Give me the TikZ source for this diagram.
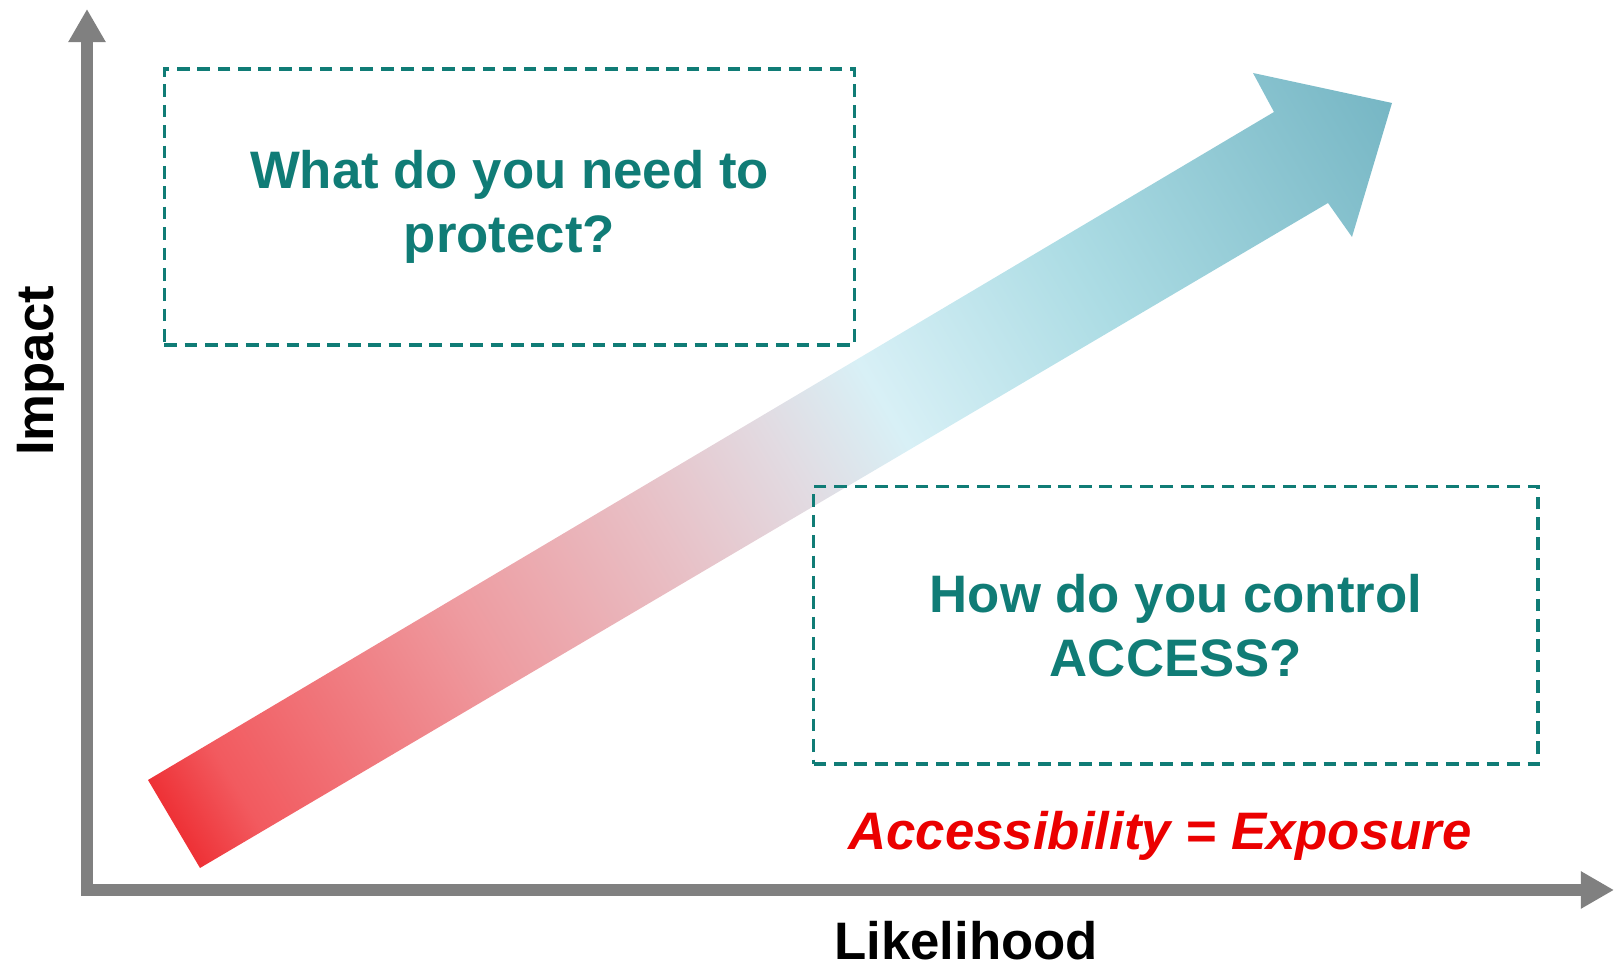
\documentclass[tikz,border=0pt]{standalone}
\usepackage{fontspec}
\setmainfont{Liberation Sans}
\usetikzlibrary{arrows.meta}

\definecolor{qteal}{RGB}{16,124,118}
\definecolor{axisgray}{RGB}{128,128,128}
\definecolor{expred}{RGB}{235,0,0}
\definecolor{ar0}{RGB}{238,50,55}
\definecolor{ar1}{RGB}{242,90,95}
\definecolor{ar2}{RGB}{238,155,160}
\definecolor{ar3}{RGB}{232,192,198}
\definecolor{ar4}{RGB}{226,218,225}
\definecolor{ar5}{RGB}{216,240,246}
\definecolor{ar6}{RGB}{172,220,228}
\definecolor{ar7}{RGB}{118,182,196}

\pgfdeclarehorizontalshading{accessshade}{120bp}{color(0bp)=(ar0); color(10bp)=(ar0); color(30bp)=(ar1); color(110bp)=(ar2); color(170bp)=(ar3); color(210bp)=(ar4); color(243bp)=(ar5); color(311bp)=(ar6); color(411bp)=(ar7); color(420bp)=(ar7)}

\tikzset{
  qbox/.style={draw=qteal, dash pattern=on 3.6pt off 2.2pt, line width=1pt, align=center, text=qteal, font=\fontsize{15}{18.2}\selectfont\bfseries},
  axisline/.style={draw=axisgray, line width=0.12cm, -{Triangle[width=0.35cm, length=0.33cm]}},
  axislabel/.style={font=\fontsize{15}{18}\selectfont\bfseries},
  eqlabel/.style={text=expred, font=\fontsize{15}{18}\selectfont\bfseries\itshape}
}

\begin{document}
\begin{tikzpicture}[x=0.01cm, y=-0.01cm]
	\useasboundingbox (0,0) rectangle (1614,968);
	
	% Shaded arrow
	\begin{scope}
		\clip (148,780) -- (1274,112) -- (1253,73) -- (1392,103) -- (1352,237) -- (1328,203) -- (200,868) -- cycle;
		\node[rotate=30.6, inner sep=0pt] (grad) at (783,463.5) {\pgfuseshading{accessshade}};
	\end{scope}
	
	% Axes
	\coordinate (origin) at (81,890);
	\coordinate (ybase) at (87,890);
	\coordinate (ytop) at (87,9);
	\coordinate (xend) at (1614,890);
	\draw[axisline] (ybase) -- (ytop);
	\draw[axisline] (origin) -- (xend);
	
	% Labels
	\node[axislabel, rotate=90, anchor=base] (impact) at (53.5,371) {Impact};
	\node[axislabel, anchor=base] (likelihood) at (966,960) {Likelihood};
	\node[eqlabel, anchor=base] (exposure) at (1160,850) {Accessibility = Exposure};
	
	% Question boxes
	\node[qbox, minimum width=6.9cm, minimum height=2.76cm] (protect) at (509.5,206.9) {What do you need to\\protect?};
	\node[qbox, minimum width=7.24cm, minimum height=2.77cm] (access) at (1175.9,625.3) {How do you control\\ACCESS?};
	
\end{tikzpicture}
\end{document}
